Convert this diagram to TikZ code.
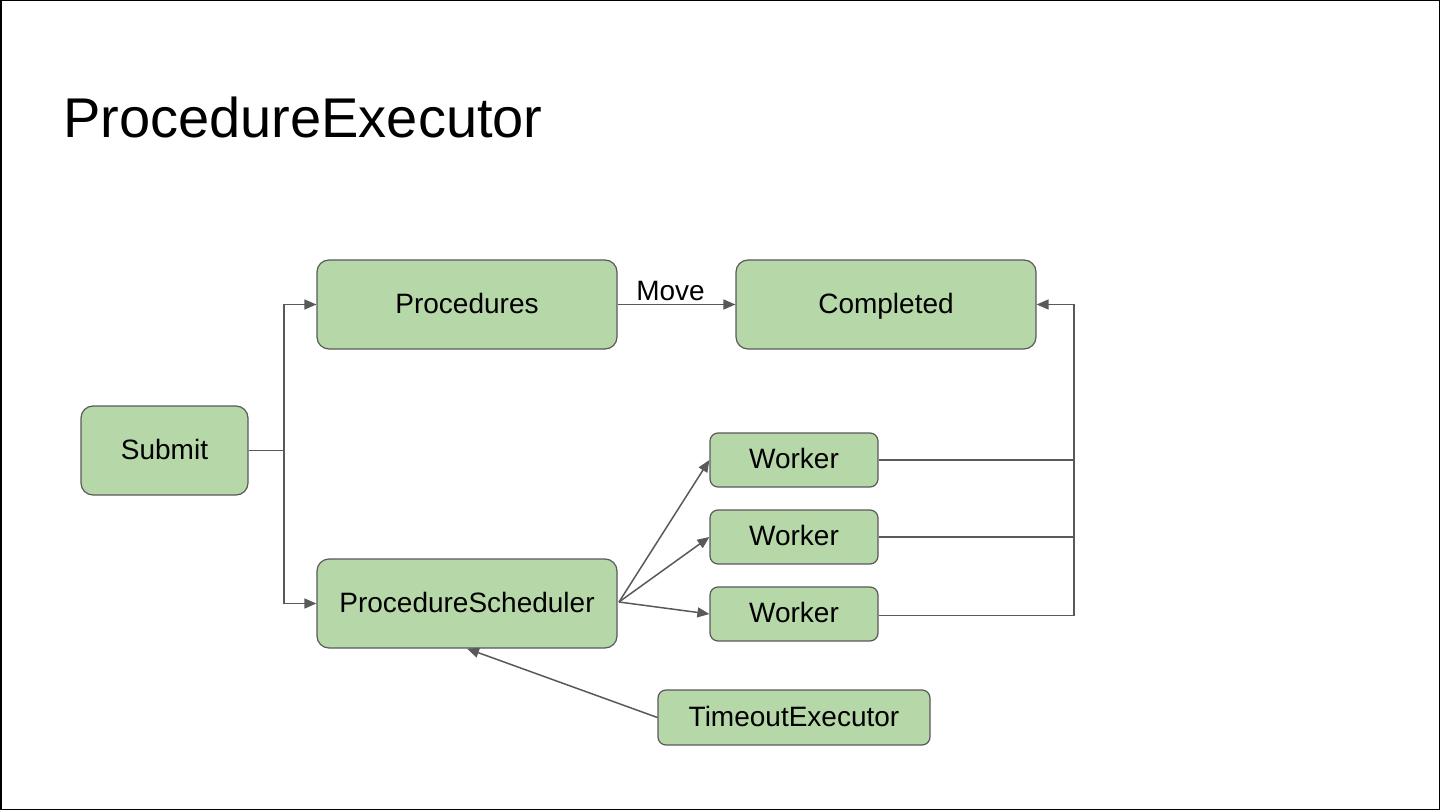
\documentclass[tikz,border=0pt]{standalone}
\usepackage{fontspec}
\setmainfont{Liberation Sans}
\usetikzlibrary{arrows.meta}
\definecolor{boxfill}{HTML}{B6D7A8}
\definecolor{boxline}{HTML}{595959}
\definecolor{conn}{HTML}{595959}
\begin{document}
\begin{tikzpicture}[x=1pt,y=-1pt,
  box/.style={draw=boxline,line width=1.2pt,fill=boxfill,rounded corners=12pt,inner sep=0pt,
    font=\fontsize{28}{32}\selectfont,text=black,text height=21.5pt,text depth=4.5pt},
  big/.style={box,minimum width=300pt,minimum height=89pt},
  small/.style={box,rounded corners=8pt,minimum height=54pt},
  link/.style={draw=conn,line width=1.5pt},
  arr/.style={link,-{Triangle[length=12pt,width=10pt]}}
]
\useasboundingbox (0,0) rectangle (1440,810);
\draw[black,line width=1.5pt] (0.75,0.75) rectangle (1439.25,809.25);
\node[anchor=base west,font=\fontsize{56}{64}\selectfont,inner sep=0pt] (title) at (63,138) {ProcedureExecutor};

\node[big] (proc) at (467,304.5) {Procedures};
\node[big] (comp) at (886,304.5) {Completed};
\node[box,minimum width=167pt,minimum height=89pt] (submit) at (164.5,450.5) {Submit};
\node[big] (sched) at (467,603.5) {ProcedureScheduler};
\node[small,minimum width=168pt] (w1) at (794,460) {Worker};
\node[small,minimum width=168pt] (w2) at (794,537) {Worker};
\node[small,minimum width=168pt] (w3) at (794,614) {Worker};
\node[small,minimum width=272pt,minimum height=55pt] (timeout) at (794,717.5) {TimeoutExecutor};

\coordinate (split) at (284,450.5);
\coordinate (merge) at (1074,304.5);
\coordinate (schedout) at (619,602);

\draw[link] (submit.east) -- (split);
\draw[arr] (split) |- (proc.west);
\draw[arr] (split) |- (sched.west);
\draw[arr] (proc.east) -- node[above=1pt,xshift=-6pt,font=\fontsize{28}{32}\selectfont,inner sep=2pt] (move) {Move} (comp.west);
\draw[link] (w1.east) -| (merge);
\draw[link] (w2.east) -| (merge);
\draw[link] ([yshift=-1.5pt]w3.east) -| (merge);
\draw[arr] (merge) -- (comp.east);
\draw[arr] (schedout) -- (w1.west);
\draw[arr] (schedout) -- (w2.west);
\draw[arr] (schedout) -- (w3.west);
\draw[arr] (timeout.west) -- (sched.south);
\end{tikzpicture}
\end{document}
